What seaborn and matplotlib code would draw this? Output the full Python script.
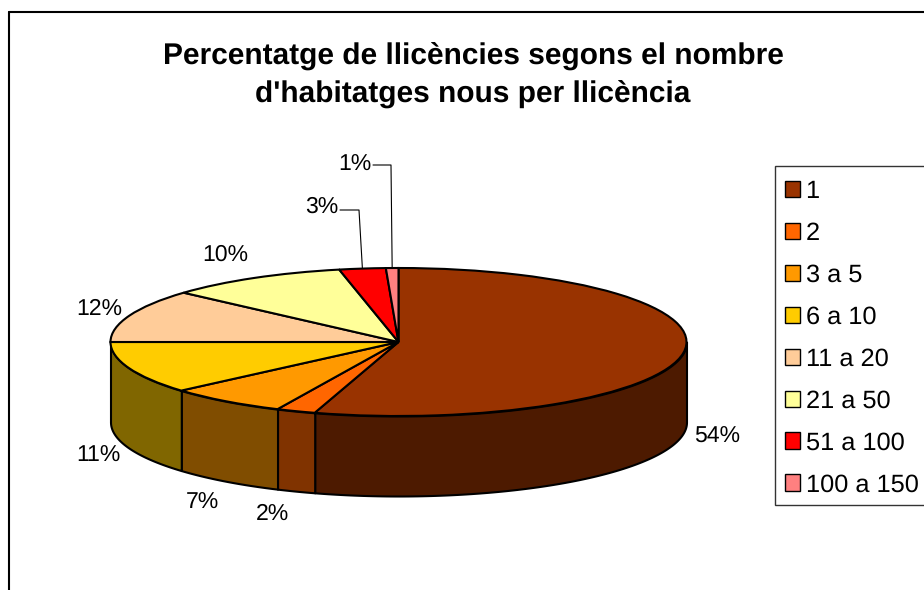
import numpy as np
import matplotlib
matplotlib.use('Agg')
import matplotlib.pyplot as plt
from matplotlib.lines import Line2D
from matplotlib.patches import Rectangle
import seaborn as sns

# Slices as measured on the picture, printed labels are what the chart shows
categories = ['1', '2', '3 a 5', '6 a 10', '11 a 20', '21 a 50', '51 a 100', '100 a 150']
values = [54.7, 2.2, 6.7, 11.4, 11.6, 10.1, 2.6, 0.7]
pct_labels = ['54%', '2%', '7%', '11%', '12%', '10%', '3%', '1%']
colors = ['#993300', '#FF6600', '#FF9900', '#FFCC00', '#FFCC99', '#FFFF99', '#FF0000', '#FF8080']
title = "Percentatge de llicències segons el nombre\nd'habitatges nous per llicència"

W, H = 924, 590
CX, CY = 398.5, 342   # pie centre in pixels
RX, RY = 288, 74      # ellipse radii in pixels
DEPTH = 80            # wall height in pixels

sns.set_theme(style='white')
plt.rcParams['font.family'] = ['Liberation Sans', 'DejaVu Sans']
plt.rcParams['text.color'] = 'black'
plt.rcParams['text.hinting'] = 'no_hinting'
palette = sns.color_palette(colors)


def px(x):
    return (x - CX) / RX


def py(y):
    return (CY - y) / RY


fig = plt.figure(figsize=(W / 100, H / 100), dpi=100)
ax = fig.add_axes([0, 0, 1, 1])

wedges, _ = ax.pie(values, colors=palette, startangle=90, counterclock=False,
                   wedgeprops={'edgecolor': 'black', 'linewidth': 1.5, 'zorder': 2})
ax.set_aspect('auto')
ax.set_xlim(px(0), px(W))
ax.set_ylim(py(H), py(0))

# Side walls: only the part of each slice in the lower half of the ellipse
depth = DEPTH / RY
theta = 90.0
mids = []
for val, col in zip(values, palette):
    start, end = theta - val * 3.6, theta
    mids.append(np.radians((start + end) / 2))
    theta = start
    lo, hi = max(start, -180), min(end, 0)
    if lo >= hi:
        continue
    t = np.radians(np.linspace(lo, hi, 120))
    wall = tuple(c * 0.5 for c in col)
    ax.fill_between(np.cos(t), np.sin(t), np.sin(t) - depth, facecolor=wall,
                    edgecolor='black', linewidth=1.5, zorder=1)

# Percent labels
label_px = [(717, 437), (272, 514), (202, 503), (98, 456),
            (99, 309), (225, 255), (322, 207), (355, 165)]
for lab, (x, y) in zip(pct_labels, label_px):
    ax.text(px(x), py(y), lab, fontsize=16.6, ha='center', va='center')

# Leader lines for the two small slices
for i, knee_y, start_x, knee_x in [(6, 210, 340, 359), (7, 165, 373, 391)]:
    end_x, end_y = np.cos(mids[i]), np.sin(mids[i])
    ax.plot([px(start_x), px(knee_x), end_x], [py(knee_y), py(knee_y), end_y],
            color='black', lw=0.8, zorder=3)

fig.text(473 / W, 1 - 74.5 / H, title, fontsize=21.5, fontweight='bold',
         ha='center', va='center', linespacing=1.45)

# Outer chart border, cut off on the right and at the bottom of the picture
for xs, ys in [([9, W], [12, 12]), ([9, 9], [12, H])]:
    fig.add_artist(Line2D(np.array(xs) / W, 1 - np.array(ys) / H, color='black', lw=1.5))

# Legend box runs off the right side of the picture, so it is drawn apart
ax.add_patch(Rectangle((px(775), py(505)), px(940) - px(775), py(166) - py(505),
                       facecolor='white', edgecolor='#333333', linewidth=1.0, zorder=4))
leg = ax.legend(wedges, categories, loc='upper left',
                bbox_to_anchor=(784.7 / W, 1 - 179.7 / H), borderaxespad=0,
                fontsize=18.3, frameon=False, handlelength=0.62, handleheight=0.62,
                handletextpad=0.2, labelspacing=0.735, borderpad=0)
for h in leg.get_patches():
    h.set_linewidth(1.0)

plt.savefig('out.png', dpi=100)
plt.close()
